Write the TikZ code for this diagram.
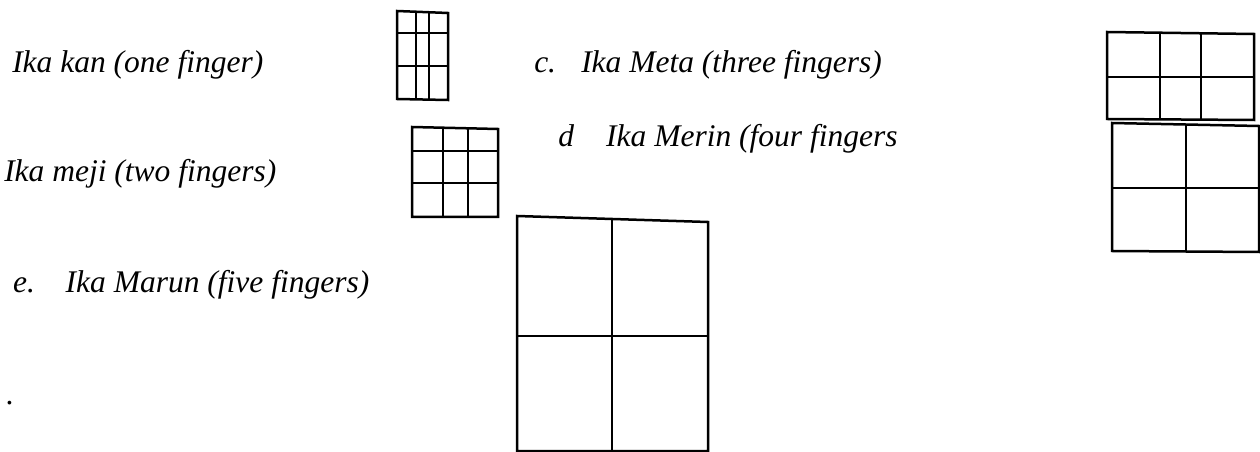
\documentclass[tikz,border=0pt]{standalone}
\usepackage{fontspec}
\setmainfont{Liberation Serif}
\usetikzlibrary{calc}

\begin{document}
\begin{tikzpicture}[x=0.4pt,y=-0.4pt,line width=1pt,
    lbl/.style={anchor=base west,inner sep=0pt,font=\fontsize{12.6}{15}\selectfont\itshape}]
  \useasboundingbox (0,0) rectangle (1260,452);
  % labels
  \node[lbl] (kan) at (11,73) {Ika kan (one finger)};
  \node[lbl] (meji) at (3,182) {Ika meji (two fingers)};
  \node[lbl] (meta) at (533,73) {\makebox[18.8pt][l]{c.}Ika Meta (three fingers)};
  \node[lbl] (merin) at (557,147) {\makebox[19.2pt][l]{d}Ika Merin (four fingers};
  \node[lbl] (marun) at (12,293) {\makebox[21pt][l]{e.}Ika Marun (five fingers)};
  \node[lbl] (dot) at (5,405) {.};
  % one finger
  \draw (397,11)--(448,13)--(448,100)--(397,99)--cycle;
  \draw (416,11.5)--(416,99.5) (429,12)--(429,99.5);
  \draw (397,33)--(448,33) (397,66)--(448,66);
  % two fingers
  \draw (412,127)--(498,129)--(498,217)--(412,217)--cycle;
  \draw (443,128)--(443,217) (468,128.5)--(468,217);
  \draw (412,151)--(498,151) (412,183)--(498,183);
  % three fingers
  \draw (1107,32)--(1254,34)--(1254,120)--(1107,119)--cycle;
  \draw (1160,33)--(1160,120) (1201,33.5)--(1201,120);
  \draw (1107,77)--(1254,77);
  % four fingers
  \draw (1112,123)--(1259,126)--(1259,252)--(1112,251)--cycle;
  \draw (1186,124.5)--(1186,252);
  \draw (1112,188)--(1259,188);
  % five fingers
  \draw (517,216)--(708,222)--(708,451)--(517,451)--cycle;
  \draw (612,219)--(612,451);
  \draw (517,336)--(708,336);
\end{tikzpicture}
\end{document}
